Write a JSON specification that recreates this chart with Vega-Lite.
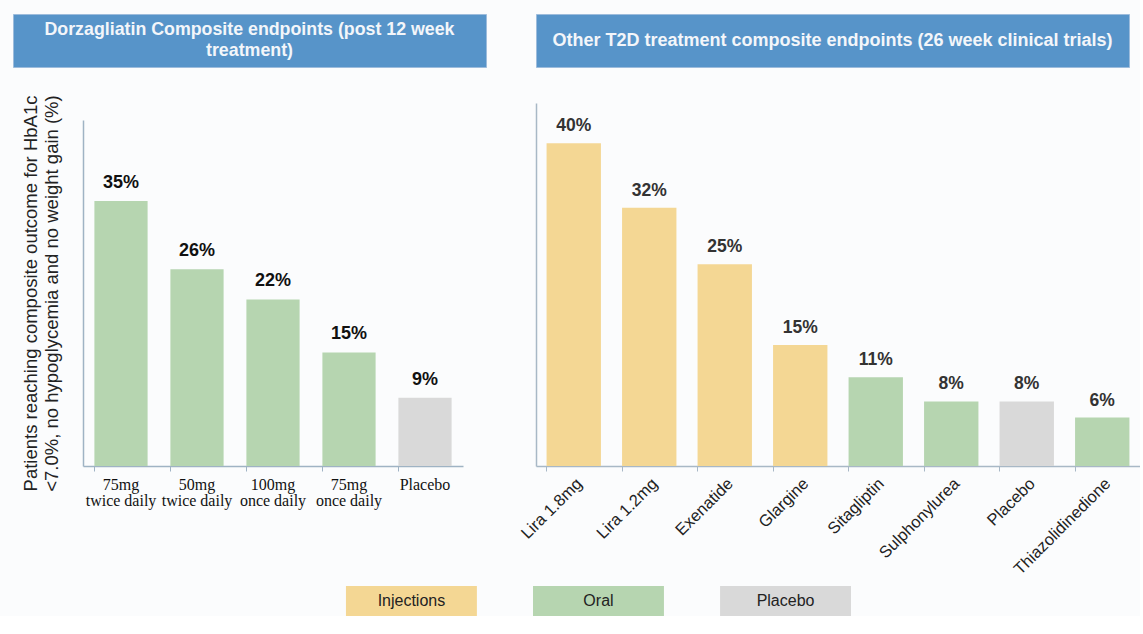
{
  "$schema": "https://vega.github.io/schema/vega-lite/v6.json",
  "background": "#fbfcfd",
  "padding": {"left": 12, "top": 13, "right": 0, "bottom": 0},
  "config": {"view": {"stroke": null}, "font": "Liberation Sans"},
  "datasets": {
    "dorz": [
      {"treatment": "75mg|twice daily", "share": 0.35, "route": "Oral"},
      {"treatment": "50mg|twice daily", "share": 0.26, "route": "Oral"},
      {"treatment": "100mg|once daily", "share": 0.22, "route": "Oral"},
      {"treatment": "75mg|once daily", "share": 0.15, "route": "Oral"},
      {"treatment": "Placebo", "share": 0.09, "route": "Placebo"}
    ],
    "other": [
      {"treatment": "Lira 1.8mg", "share": 0.40, "route": "Injections"},
      {"treatment": "Lira 1.2mg", "share": 0.32, "route": "Injections"},
      {"treatment": "Exenatide", "share": 0.25, "route": "Injections"},
      {"treatment": "Glargine", "share": 0.15, "route": "Injections"},
      {"treatment": "Sitagliptin", "share": 0.11, "route": "Oral"},
      {"treatment": "Sulphonylurea", "share": 0.08, "route": "Oral"},
      {"treatment": "Placebo", "share": 0.08, "route": "Placebo"},
      {"treatment": "Thiazolidinedione", "share": 0.06, "route": "Oral"}
    ],
    "routes": [{"route": "Injections"}, {"route": "Oral"}, {"route": "Placebo"}],
    "none": []
  },
  "spacing": 8,
  "vconcat": [
    {
      "spacing": 31,
      "hconcat": [
        {
          "spacing": 26,
          "vconcat": [
            {
              "width": 473,
              "height": 53,
              "data": {"values": [{"title": "Dorzagliatin Composite endpoints (post 12 week|treatment)"}]},
              "view": {"fill": "#5794c9", "stroke": "#9dbcdc"},
              "mark": {"type": "text", "lineBreak": "|", "fontSize": 17.8, "fontWeight": "bold", "color": "#f3f6fa", "lineHeight": 21, "dy": -10.5},
              "encoding": {"text": {"field": "title"}}
            },
            {
              "spacing": 7,
              "hconcat": [
                {"width": 1, "height": 1, "data": {"name": "none"}, "mark": "point"},
                {
                  "width": 380,
                  "height": 346,
                  "data": {"name": "dorz"},
                  "encoding": {
                    "x": {
                      "field": "treatment", "type": "nominal", "sort": null,
                      "scale": {"paddingInner": 0.3},
                      "axis": {
                        "title": null, "labelAngle": 0, "labelExpr": "split(datum.label, '|')",
                        "labelFont": "Liberation Serif", "labelFontSize": 16, "labelColor": "#111", "labelLineHeight": 16,
                        "labelPadding": 5, "bandPosition": 0, "tickSize": 5, "tickColor": "#9fb3c4", "domainColor": "#9fb3c4", "domainWidth": 1.5
                      }
                    },
                    "y": {
                      "field": "share", "type": "quantitative",
                      "scale": {"domain": [0, 0.457]},
                      "axis": {
                        "title": ["Patients reaching composite outcome for HbA1c", "<7.0%, no hypoglycemia and no weight gain (%)"],
                        "titleFontSize": 18.5, "titleFontWeight": "normal", "titleColor": "#222", "titleLineHeight": 21,
                        "titlePadding": 22, "labels": false, "ticks": false, "grid": false, "minExtent": 0,
                        "domainColor": "#9fb3c4", "domainWidth": 1.5
                      }
                    }
                  },
                  "layer": [
                    {
                      "mark": {"type": "bar"},
                      "encoding": {
                        "color": {"field": "route", "type": "nominal", "legend": null,
                          "scale": {"domain": ["Injections", "Oral", "Placebo"], "range": ["#f4d794", "#b6d5b0", "#d9d9d9"]}}
                      }
                    },
                    {
                      "mark": {"type": "text", "baseline": "bottom", "dy": -9, "fontSize": 18, "fontWeight": "bold", "color": "#111"},
                      "encoding": {"text": {"field": "share", "type": "quantitative", "format": ".0%"}}
                    }
                  ]
                }
              ]
            }
          ]
        },
        {
          "spacing": 35,
          "vconcat": [
            {
              "width": 593,
              "height": 53,
              "data": {"values": [{"title": "Other T2D treatment composite endpoints (26 week clinical trials)"}]},
              "view": {"fill": "#5794c9", "stroke": "#9dbcdc"},
              "mark": {"type": "text", "fontSize": 18, "fontWeight": "bold", "color": "#f3f6fa"},
              "encoding": {"text": {"field": "title"}}
            },
            {
              "width": 604,
              "height": 363,
              "data": {"name": "other"},
              "encoding": {
                "x": {
                  "field": "treatment", "type": "nominal", "sort": null,
                  "scale": {"paddingInner": 0.28},
                  "axis": {
                    "title": null, "labelAngle": -45, "labelFontSize": 16.5, "labelColor": "#222",
                    "labelPadding": 4, "bandPosition": 0, "tickSize": 5, "tickColor": "#a8b8c6", "domainColor": "#a8b8c6", "domainWidth": 1.5
                  }
                },
                "y": {
                  "field": "share", "type": "quantitative",
                  "scale": {"domain": [0, 0.45]},
                  "axis": {"title": null, "labels": false, "ticks": false, "grid": false, "minExtent": 0, "domainColor": "#a8b8c6", "domainWidth": 1.5}
                }
              },
              "layer": [
                {
                  "mark": {"type": "bar"},
                  "encoding": {
                    "color": {"field": "route", "type": "nominal", "legend": null,
                      "scale": {"domain": ["Injections", "Oral", "Placebo"], "range": ["#f4d794", "#b6d5b0", "#d9d9d9"]}}
                  }
                },
                {
                  "mark": {"type": "text", "baseline": "bottom", "dy": -8, "fontSize": 17.5, "fontWeight": "bold", "color": "#333"},
                  "encoding": {"text": {"field": "share", "type": "quantitative", "format": ".0%"}}
                }
              ]
            }
          ]
        }
      ]
    },
    {
      "width": 838,
      "height": 30,
      "data": {"name": "routes"},
      "encoding": {
        "x": {"field": "route", "type": "nominal", "sort": null, "axis": null,
          "scale": {"paddingInner": 0.3, "paddingOuter": 0.89, "align": 1}}
      },
      "layer": [
        {
          "mark": {"type": "bar"},
          "encoding": {
            "color": {"field": "route", "type": "nominal", "legend": null,
              "scale": {"domain": ["Injections", "Oral", "Placebo"], "range": ["#f4d794", "#b6d5b0", "#d9d9d9"]}}
          }
        },
        {
          "mark": {"type": "text", "fontSize": 16, "color": "#222"},
          "encoding": {"text": {"field": "route"}}
        }
      ]
    }
  ]
}
